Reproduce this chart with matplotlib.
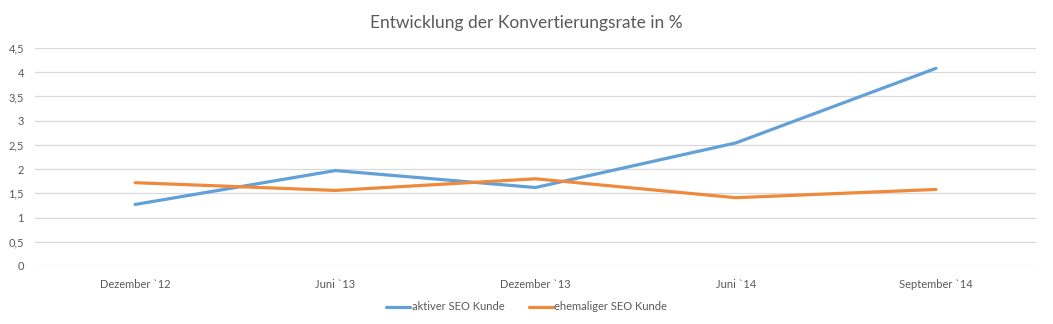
import matplotlib.pyplot as plt

months = ["Dezember `12", "Juni `13", "Dezember `13", "Juni `14", "September `14"]
aktiv = [1.27, 1.97, 1.62, 2.54, 4.08]
ehemalig = [1.72, 1.56, 1.80, 1.41, 1.58]
yticks = [0, 0.5, 1, 1.5, 2, 2.5, 3, 3.5, 4, 4.5]

plt.rcParams['font.family'] = ['Lato', 'DejaVu Sans']
txt = '#595959'

fig = plt.figure(figsize=(10.53, 3.24), dpi=100)
ax = fig.add_axes([35 / 1053, 58 / 324, 1001 / 1053, 218 / 324])

x = range(len(months))
ax.plot(x, aktiv, color='#62A0D8', lw=2.3, label='aktiver SEO Kunde', solid_capstyle='round')
ax.plot(x, ehemalig, color='#EF8A3C', lw=2.3, label='ehemaliger SEO Kunde', solid_capstyle='round')

ax.set_xlim(-0.5, len(months) - 0.5)
ax.set_ylim(0, 4.5)
ax.set_xticks(list(x))
ax.set_xticklabels(months)
ax.set_yticks(yticks)
ax.set_yticklabels([f"{v:g}".replace('.', ',') for v in yticks])
ax.tick_params(length=0, labelsize=8, colors=txt, pad=8)
ax.tick_params(axis='x', pad=9)
ax.grid(axis='y', color='#D9D9D9', lw=0.9)
ax.set_axisbelow(True)
for s in ax.spines.values():
    s.set_visible(False)

fig.suptitle('Entwicklung der Konvertierungsrate in %', y=0.955, fontsize=12.5, color=txt)
fig.legend(loc='center', bbox_to_anchor=(0.5, 1 - 307 / 324), ncol=2, frameon=False,
           fontsize=8, labelcolor=txt, handlelength=2.2, handletextpad=0.1, columnspacing=2.2)

fig.savefig('out.png', dpi=100, facecolor='white')
